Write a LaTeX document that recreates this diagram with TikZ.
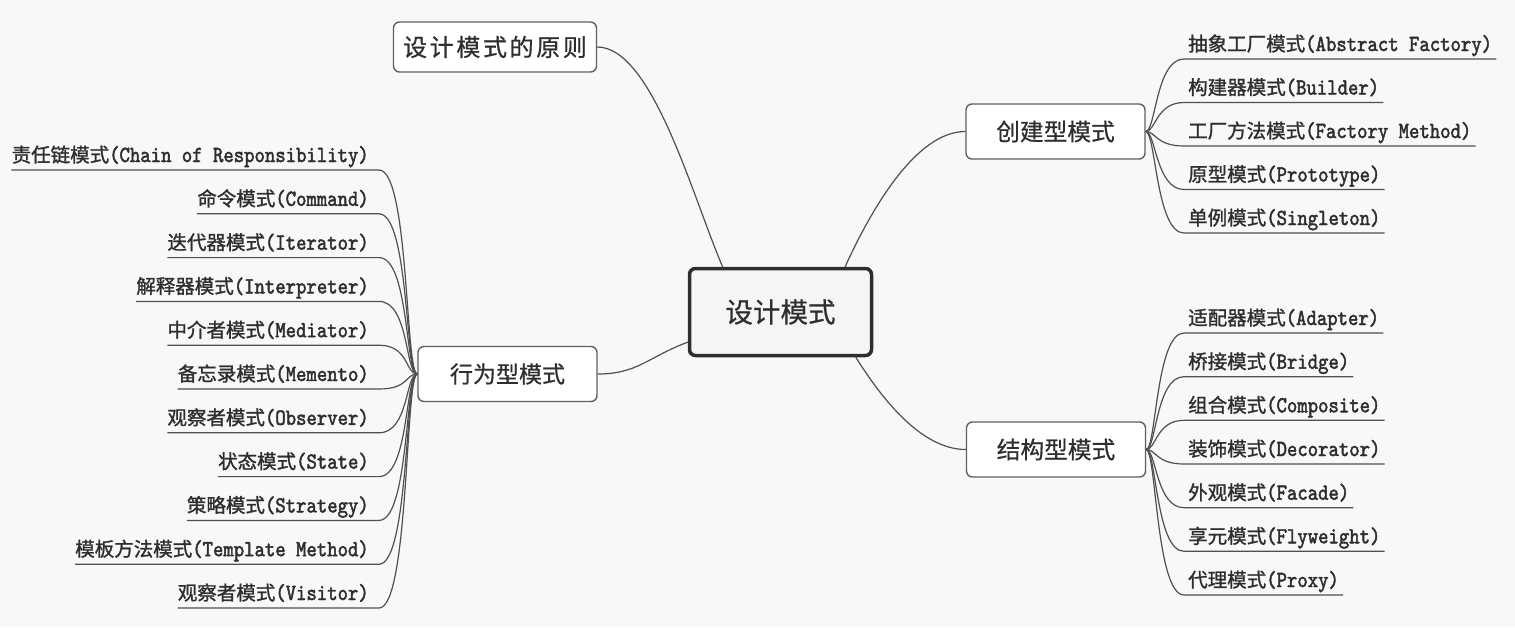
\documentclass[tikz,border=0pt]{standalone}
\usepackage{fontspec}
\newfontfamily\cjk{Noto Sans CJK SC}[FakeBold=0.6]
\newfontfamily\cjkb{Noto Sans CJK SC}[FakeBold=1.3]
\newfontfamily\cjkls{Noto Sans CJK SC}[LetterSpace=11,FakeBold=0.6]
\newfontfamily\latf{lmmono10-regular.otf}[FakeStretch=0.86,FakeBold=2]
\newcommand\lf[2]{{\fontsize{19.5}{20}\cjkb #1}{\fontsize{23}{23}\latf #2}}
\definecolor{bgc}{HTML}{F8F8F8}
\definecolor{linec}{HTML}{505050}
\definecolor{boxc}{HTML}{606060}
\definecolor{txt}{HTML}{2E2E2E}
\begin{document}
\begin{tikzpicture}[x=1pt,y=-1pt,
  conn/.style={draw=linec, line width=1.2pt},
  catbox/.style={draw=boxc, line width=1.4pt, rounded corners=6pt, fill=white, inner sep=0pt,
    minimum width=179pt, minimum height=55pt, text=txt, font=\cjk\fontsize{23.7}{24}\selectfont},
  rootbox/.style={draw=txt, line width=3.5pt, rounded corners=6pt, fill=white!96!black, inner sep=0pt,
    minimum width=182pt, minimum height=87pt, text=txt, font=\cjk\fontsize{27.5}{28}\selectfont},
  leafR/.style={anchor=base west, inner xsep=4pt, inner ysep=0pt, text=txt},
  leafL/.style={anchor=base east, inner xsep=0pt, inner ysep=0pt, text=txt}]
\fill[bgc] (0,0) rectangle (1515,627);
\useasboundingbox (0,0) rectangle (1515,627);

% main nodes
\node[rootbox] (c) at (780.5,312) {设计模式};
\node[catbox, minimum width=203pt, minimum height=50pt, font=\cjkls\fontsize{24}{24}\selectfont] (p) at (495,47) {设计模式的原则};
\node[catbox] (cr) at (1055.5,131.5) {创建型模式};
\node[catbox] (cs) at (1056,449.5) {结构型模式};
\node[catbox, font=\cjk\fontsize{23}{24}\selectfont] (cb) at (507.5,374) {行为型模式};

% main connectors
\draw[conn] (p.east) .. controls +(55,0) and +(-30,-70) .. (c.142);
\draw[conn] (c.35) .. controls +(25,-55) and +(-50,0) .. (cr.west);
\draw[conn] (c.-31) .. controls +(25,40) and +(-45,0) .. (cs.west);
\draw[conn] (cb.east) .. controls +(40,0) and +(-40,15) .. (c.198);

% creational leaves
\node[leafR] (r1) at (1184,51)    {\lf{抽象工厂模式}{(Abstract Factory)}};
\node[leafR] (r2) at (1184,94.5)  {\lf{构建器模式}{(Builder)}};
\node[leafR] (r3) at (1184,138)   {\lf{工厂方法模式}{(Factory Method)}};
\node[leafR] (r4) at (1184,181.5) {\lf{原型模式}{(Prototype)}};
\node[leafR] (r5) at (1184,225)   {\lf{单例模式}{(Singleton)}};
\foreach \n in {r1,r2,r3,r4,r5}
  \draw[conn] (cr.east) .. controls +(10,0) and +(-28,0) .. ([yshift=-8pt]\n.base west) -- ([yshift=-8pt]\n.base east);

% structural leaves
\node[leafR] (s1) at (1184,325)   {\lf{适配器模式}{(Adapter)}};
\node[leafR] (s2) at (1184,368.7) {\lf{桥接模式}{(Bridge)}};
\node[leafR] (s3) at (1184,412.3) {\lf{组合模式}{(Composite)}};
\node[leafR] (s4) at (1184,456)   {\lf{装饰模式}{(Decorator)}};
\node[leafR] (s5) at (1184,499.7) {\lf{外观模式}{(Facade)}};
\node[leafR] (s6) at (1184,543.3) {\lf{享元模式}{(Flyweight)}};
\node[leafR] (s7) at (1184,587)   {\lf{代理模式}{(Proxy)}};
\foreach \n in {s1,s2,s3,s4,s5,s6,s7}
  \draw[conn] (cs.east) .. controls +(10,0) and +(-28,0) .. ([yshift=-8pt]\n.base west) -- ([yshift=-8pt]\n.base east);

% behavioural leaves
\node[leafL] (b1)  at (369,162)   {\lf{责任链模式}{(Chain of Responsibility)}};
\node[leafL] (b2)  at (369,205.8) {\lf{命令模式}{(Command)}};
\node[leafL] (b3)  at (369,249.6) {\lf{迭代器模式}{(Iterator)}};
\node[leafL] (b4)  at (369,293.4) {\lf{解释器模式}{(Interpreter)}};
\node[leafL] (b5)  at (369,337.2) {\lf{中介者模式}{(Mediator)}};
\node[leafL] (b6)  at (369,381)   {\lf{备忘录模式}{(Memento)}};
\node[leafL] (b7)  at (369,424.8) {\lf{观察者模式}{(Observer)}};
\node[leafL] (b8)  at (369,468.6) {\lf{状态模式}{(State)}};
\node[leafL] (b9)  at (369,512.4) {\lf{策略模式}{(Strategy)}};
\node[leafL] (b10) at (369,556.2) {\lf{模板方法模式}{(Template Method)}};
\node[leafL] (b11) at (369,600)   {\lf{观察者模式}{(Visitor)}};
\foreach \n in {b1,b2,b3,b4,b5,b6,b7,b8,b9,b10,b11}
  \draw[conn] (cb.west) .. controls +(-12,0) and +(30,0) .. ([xshift=10pt,yshift=-8pt]\n.base east) -- ([yshift=-8pt]\n.base west);
\end{tikzpicture}
\end{document}
